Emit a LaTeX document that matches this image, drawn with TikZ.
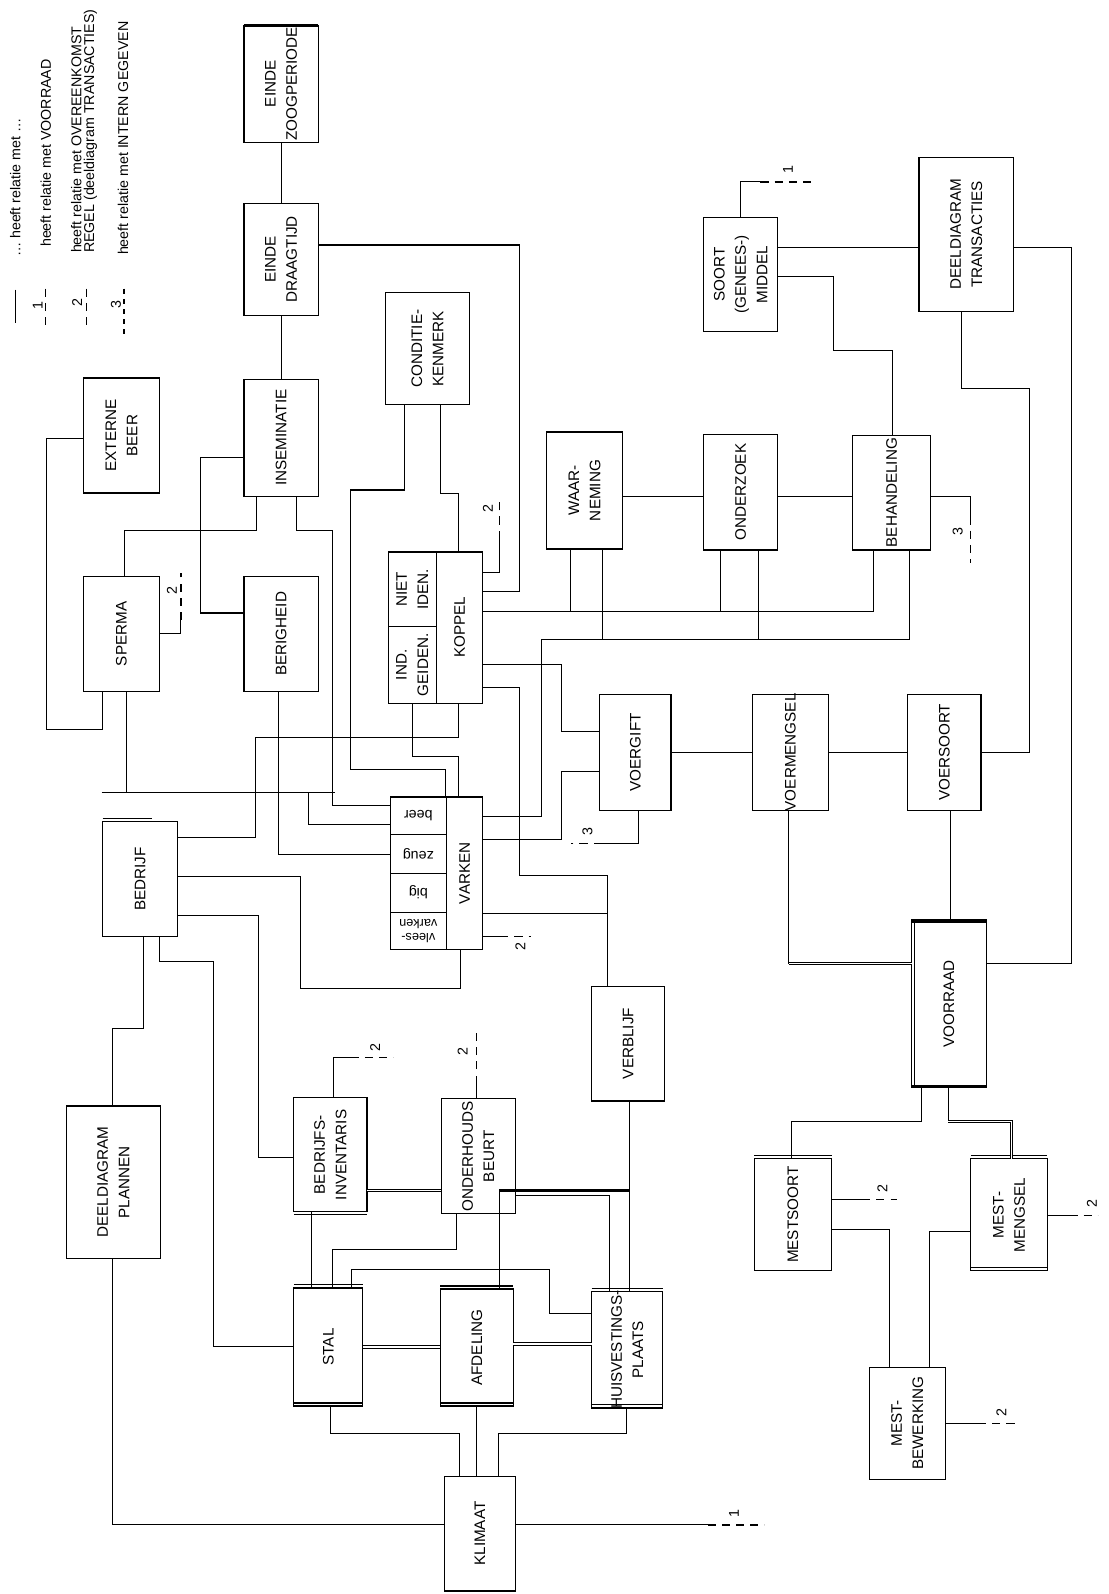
\documentclass[tikz,border=0pt]{standalone}
\usepackage{fontspec}
\setmainfont{Liberation Sans}
\newcommand\bx[6]{%
  \node[bx, minimum width={#4-#2}, minimum height={#5-#3}] (#1) at ({(#2+#4)/2},{(#3+#5)/2}) {};
  \node[lb] (#1-t) at (#1) {#6};}
\begin{document}
\begin{tikzpicture}[x=1pt,y=-1pt]
\tikzset{
  bx/.style={draw, line width=1.1pt, inner sep=0, outer sep=0},
  lb/.style={rotate=90, align=center, inner sep=0, font=\fontsize{15}{21}\selectfont},
  cn/.style={line width=1pt},
  dsh/.style={line width=1.2pt, dash pattern=on 8pt off 6pt},
  tag/.style={rotate=90, inner sep=0, font=\fontsize{14}{15}\selectfont},
  lg/.style={rotate=90, anchor=west, inner sep=0, align=left, font=\fontsize{14}{12}\selectfont},
  dbl/.style={line width=2.2pt},
  sub/.style={rotate=180, align=center, inner sep=0, font=\fontsize{14}{15}\selectfont},
}
\fill[white] (0,0) rectangle (1090,1568);
\useasboundingbox (0,0) rectangle (1090,1568);

% ---------- legend ----------
\coordinate (l1a) at (15,285); \coordinate (l1b) at (15,318);
\draw[cn] (l1a) -- (l1b);
\node[lg] (lt1) at (15,253) {\ldots{} heeft relatie met \ldots};
\coordinate (l2a) at (45,284); \coordinate (l2b) at (45,322);
\draw[dsh] (l2a) -- (l2b);
\node[tag] (ln1) at (37,301) {1};
\node[lg] (lt2) at (45,243) {heeft relatie met VOORRAAD};
\coordinate (l3a) at (85,284); \coordinate (l3b) at (85,322);
\draw[dsh] (l3a) -- (l3b);
\node[tag] (ln2) at (76,298) {2};
\node[lg] (lt3) at (75,249) {heeft relatie met OVEREENKOMST};
\node[lg] (lt3b) at (89,249) {REGEL (deeldiagram TRANSACTIES)};
\coordinate (l4a) at (122,284); \coordinate (l4b) at (122,330);
\draw[line width=1.2pt, dash pattern=on 5pt off 5pt] (l4a) -- (l4b);
\node[tag] (ln3) at (114,300) {3};
\node[lg] (lt4) at (121,251) {heeft relatie met INTERN GEGEVEN};

% ---------- boxes ----------
\bx{edz}{240}{25}{313}{140}{EINDE\\ZOOGPERIODE}
\bx{edt}{240}{200}{313}{310}{EINDE\\DRAAGTIJD}
\bx{ins}{240}{373}{313}{488}{INSEMINATIE}
\bx{cond}{379}{288}{462}{398}{CONDITIE-\\KENMERK}
\bx{ext}{82}{372}{157}{485}{EXTERNE\\BEER}
\bx{sper}{82}{567}{157}{680}{SPERMA}
\bx{ber}{240}{567}{313}{680}{BERIGHEID}
\bx{waar}{538}{425}{612}{540}{WAAR-\\NEMING}
\bx{ond}{692}{427}{765}{541}{ONDERZOEK}
\bx{beh}{839}{428}{915}{541}{BEHANDELING}
\bx{soort}{692}{214}{765}{326}{SOORT\\(GENEES-)\\MIDDEL}
\bx{trans}{904}{155}{997}{306}{DEELDIAGRAM\\TRANSACTIES}
\bx{vg}{590}{683}{660}{797}{VOERGIFT}
\bx{vm}{740}{683}{815}{797}{VOERMENGSEL}
\bx{vs}{893}{683}{965}{797}{VOERSOORT}
\bx{bedr}{101}{808}{175}{921}{BEDRIJF}
\bx{verb}{582}{970}{654}{1083}{VERBLIJF}
\bx{voor}{897}{905}{970}{1070}{VOORRAAD}
\bx{plan}{65}{1088}{158}{1238}{DEELDIAGRAM\\PLANNEN}
\bx{binv}{289}{1080}{361}{1192}{BEDRIJFS-\\INVENTARIS}
\bx{ohb}{434}{1081}{507}{1194}{ONDERHOUDS\\BEURT}
\bx{stal}{289}{1267}{357}{1383}{STAL}
\bx{afd}{433}{1268}{505}{1383}{AFDELING}
\bx{huis}{582}{1270}{652}{1385}{HUISVESTINGS-\\PLAATS}
\bx{klim}{437}{1452}{507}{1565}{KLIMAAT}
\bx{msoort}{742}{1140}{818}{1250}{MESTSOORT}
\bx{mmeng}{955}{1140}{1030}{1250}{MEST-\\MENGSEL}
\bx{mbew}{855}{1345}{930}{1455}{MEST-\\BEWERKING}

% KOPPEL composite
\node[bx, minimum width=93, minimum height=149] (kop) at (428.5,617.5) {};
\draw[bx] (kop.north -| 429,0) -- (kop.south -| 429,0);
\draw[bx] (kop.west |- 0,616) -- (429,616);
\node[lb] (kop-a) at (405.5,579.5) {NIET\\IDEN.};
\node[lb] (kop-b) at (405.5,654) {IND.\\GEIDEN.};
\node[lb] (kop-c) at (452,617) {KOPPEL};

% VARKEN composite
\node[bx, minimum width=91, minimum height=150] (vark) at (429.5,859) {};
\draw[bx] (vark.north -| 439,0) -- (vark.south -| 439,0);
\draw[bx] (vark.west |- 0,821) -- (439,821);
\draw[bx] (vark.west |- 0,859) -- (439,859);
\draw[bx] (vark.west |- 0,898) -- (439,898);
\node[sub] (v-beer) at (411.5,802) {beer};
\node[sub] (v-zeug) at (411.5,840) {zeug};
\node[sub] (v-big) at (411.5,878) {big};
\node[sub, font=\fontsize{12.5}{14}\selectfont] (v-vl) at (411.5,916) {vlees-\\varken};
\node[lb] (vark-t) at (457,859) {VARKEN};

% heavy / doubled edges
\draw[dbl] (edz.north west) -- (edz.north east);
\draw[dbl] (ext.north west) -- (ext.north east);
\draw[cn] ([yshift=3pt]bedr.north west) -- ([yshift=3pt,xshift=-25pt]bedr.north east);
\draw[cn] ([yshift=-3pt]binv.south west) -- ([yshift=-3pt]binv.south east);
\draw[dbl] ([yshift=3pt]stal.south west) -- ([yshift=3pt]stal.south east);
\draw[dbl] ([yshift=3pt]afd.south west) -- ([yshift=3pt]afd.south east);
\draw[cn] ([yshift=3pt]afd.north west) -- ([yshift=3pt]afd.north east);
\draw[cn] ([yshift=3pt]huis.north west) -- ([yshift=3pt]huis.north east);
\draw[cn] ([yshift=3pt]huis.south west) -- ([yshift=3pt]huis.south east);
\draw[cn] ([yshift=3pt]stal.north west) -- ([yshift=3pt]stal.north east);
\draw[dbl] ([yshift=-2pt]voor.north west) -- ([yshift=-2pt]voor.north east);
\draw[dbl] ([yshift=2pt]voor.south west) -- ([yshift=2pt]voor.south east);
\draw[cn] ([xshift=3pt]voor.north west) -- ([xshift=3pt]voor.south west);
\draw[cn] ([yshift=3pt]msoort.north west) -- ([yshift=3pt]msoort.north east);
\draw[cn] ([yshift=3pt]mmeng.north west) -- ([yshift=3pt]mmeng.north east);
\draw[cn] ([yshift=3pt]mmeng.south west) -- ([yshift=3pt]mmeng.south east);

% ---------- connectors ----------
\draw[cn] (edz.south) -- (edt.north);
\draw[cn] (edt.south) -- (ins.north);
\draw[cn] (edt.east |- 0,241) -- (511,241) -- (511,582) -- (kop.east |- 0,582);
\draw[cn] (cond.south -| 398,0) -- (398,482) -- (345,482) -- (345,757) -- (438,757) -- (vark.north -| 438,0);
\draw[cn] (cond.south -| 433,0) -- (433,485) -- (451,485) -- (kop.north -| 451,0);
\coordinate (k2) at (491,489);
\draw[cn] (kop.east |- 0,563) -- (491,563) -- (491,530);
\draw[dsh] (491,530) -- (k2);
\node[tag] (k2t) at (480,500) {2};
\draw[cn] (kop.east |- 0,602) -- (859,602) -- (beh.south -| 859,0);
\draw[cn] (waar.south -| 561,0) -- (561,602);
\draw[cn] (ond.south -| 709,0) -- (709,602);
\draw[cn] (vark.east |- 0,803) -- (533,803) -- (533,629) -- (895,629) -- (beh.south -| 895,0);
\draw[cn] (waar.south -| 593,0) -- (593,629);
\draw[cn] (ond.south -| 746,0) -- (746,629);
\draw[cn] (kop.east |- 0,654) -- (552,654) -- (552,720) -- (vg.west |- 0,720);
\draw[cn] (vark.east |- 0,826) -- (552,826) -- (552,759) -- (vg.west |- 0,759);
\coordinate (vg3) at (562,830);
\draw[cn] (vg.south -| 628,0) -- (628,830) -- (592,830);
\draw[dsh] (592,830) -- (vg3);
\node[tag] (vg3t) at (578,818) {3};
\draw[cn] (kop.east |- 0,676) -- (511,676) -- (511,861) -- (598,861) -- (verb.north -| 598,0);
\draw[cn] (vark.east |- 0,899) -- (598,899);
\coordinate (v2) at (522,921);
\draw[cn] (vark.east |- 0,921) -- (492,921);
\draw[dsh] (492,921) -- (v2);
\node[tag] (v2t) at (512,931) {2};

\draw[cn] (ins.west |- 0,450) -- (197,450) -- (197,603) -- (ber.west |- 0,603);
\draw[cn] (ins.south -| 252,0) -- (252,522) -- (122,522) -- (sper.north -| 122,0);
\draw[cn] (ins.south -| 292,0) -- (292,522) -- (327,522) -- (327,792) -- (vark.west |- 0,792);
\draw[cn] (ext.west |- 0,431) -- (46,431) -- (46,718) -- (101,718) -- (sper.south -| 101,0);
\coordinate (s2) at (178,564);
\draw[cn] (sper.east |- 0,623) -- (178,623) -- (178,610);
\draw[dsh] (178,610) -- (s2);
\node[tag] (s2t) at (169,581) {2};
\draw[cn] (sper.south -| 124,0) -- (124,780) -- (303,780) -- (303,811) -- (vark.west |- 0,811);
\coordinate (st1) at (100,780); \coordinate (st2) at (330,780);
\draw[cn] (st1) -- (st2);
\draw[cn] (ber.south -| 274,0) -- (274,841) -- (vark.west |- 0,841);
\draw[cn] (bedr.east |- 0,824) -- (251,824) -- (251,725) -- (451,725) -- (kop.south -| 451,0);
\draw[cn] (kop.south -| 406,0) -- (406,744) -- (451,744) -- (vark.north -| 451,0);
\draw[cn] (bedr.east |- 0,862) -- (296,862) -- (296,972) -- (453,972) -- (vark.south -| 453,0);
\draw[cn] (bedr.east |- 0,901) -- (254,901) -- (254,1139) -- (binv.west |- 0,1139);
\draw[cn] (bedr.south -| 157,0) -- (157,946) -- (210,946) -- (210,1325) -- (stal.west |- 0,1325);
\draw[cn] (bedr.south -| 141,0) -- (141,1012) -- (111,1012) -- (plan.north -| 111,0);
\draw[cn] (plan.south -| 111,0) -- (111,1500) -- (klim.west |- 0,1500);
\coordinate (kl1) at (752,1500);
\draw[cn] (klim.east |- 0,1500) -- (696,1500);
\draw[dsh] (696,1500) -- (kl1);
\node[tag] (kl1t) at (722,1489) {1};

\coordinate (bi2) at (387,1040);
\draw[cn] (binv.north -| 328,0) -- (328,1040) -- (345,1040);
\draw[dsh] (345,1040) -- (bi2);
\node[tag] (bi2t) at (369,1030) {2};
\coordinate (oh2) at (469,1016);
\draw[cn] (ohb.north -| 469,0) -- (469,1066);
\draw[dsh] (469,1066) -- (oh2);
\node[tag] (oh2t) at (455,1034) {2};
\draw[dbl, double, double distance=1.2pt, line width=0.8pt] (binv.east |- 0,1171) -- (ohb.west |- 0,1171);
\draw[cn] (afd.north -| 491,0) -- (491,1171);
\draw[dbl] (491,1171) -- (619,1171);
\draw[cn] (verb.south -| 619,0) -- (huis.north -| 619,0);
\draw[cn] (ohb.east |- 0,1176) -- (600,1176) -- (huis.north -| 600,0);
\draw[cn] (binv.south -| 306,0) -- (stal.north -| 306,0);
\draw[cn] (ohb.south -| 449,0) -- (449,1229) -- (327,1229) -- (stal.north -| 327,0);
\draw[cn] (stal.north -| 346,0) -- (346,1249) -- (541,1249) -- (541,1292) -- (huis.west |- 0,1292);
\draw[cn, double, double distance=1.5pt, line width=0.8pt] (stal.east |- 0,1325) -- (afd.west |- 0,1325);
\draw[dbl, double, double distance=1.5pt, line width=1pt] (afd.east |- 0,1322) -- (huis.west |- 0,1322);
\draw[cn] (stal.south -| 325,0) -- (325,1410) -- (452,1410) -- (klim.north -| 452,0);
\draw[cn] (afd.south -| 469,0) -- (klim.north -| 469,0);
\draw[cn] (huis.south -| 616,0) -- (616,1410) -- (490,1410) -- (klim.north -| 490,0);

\coordinate (so1) at (800,179);
\draw[cn] (soort.north -| 728,0) -- (728,179) -- (748,179);
\draw[dsh] (748,179) -- (so1);
\node[tag] (so1t) at (775,167) {1};
\draw[cn] (soort.east |- 0,243) -- (trans.west |- 0,243);
\draw[cn] (soort.east |- 0,272) -- (820,272) -- (820,345) -- (878,345) -- (beh.north -| 878,0);
\draw[cn] (waar.east |- 0,488) -- (ond.west |- 0,488);
\draw[cn] (ond.east |- 0,488) -- (beh.west |- 0,488);
\coordinate (be3) at (955,554);
\draw[cn] (beh.east |- 0,488) -- (955,488) -- (955,508);
\draw[dsh] (955,508) -- (be3);
\node[tag] (be3t) at (942,523) {3};
\draw[cn] (trans.east |- 0,243) -- (1054,243) -- (1054,948) -- (voor.east |- 0,948);
\draw[cn] (trans.south -| 946,0) -- (946,382) -- (1013,382) -- (1013,740) -- (vs.east |- 0,740);
\draw[cn] (vg.east |- 0,740) -- (vm.west |- 0,740);
\draw[cn] (vm.east |- 0,740) -- (vs.west |- 0,740);
\draw[cn] (vm.south -| 776,0) -- (776,948);
\draw[cn, double, double distance=1.2pt, line width=0.8pt] (776,948) -- (voor.west |- 0,948);
\draw[cn] (vs.south -| 935,0) -- (voor.north -| 935,0);
\draw[cn] (voor.south -| 906,0) -- (906,1103) -- (779,1103) -- (msoort.north -| 779,0);
\draw[cn] (voor.south -| 933,0) -- (933,1103);
\draw[cn, double, double distance=1.2pt, line width=0.8pt] (933,1103) -- (995,1103) -- (mmeng.north -| 995,0);
\coordinate (ms2) at (882,1180);
\draw[cn] (msoort.east |- 0,1180) -- (848,1180);
\draw[dsh] (848,1180) -- (ms2);
\node[tag] (ms2t) at (868,1169) {2};
\draw[cn] (msoort.east |- 0,1209) -- (875,1209) -- (mbew.north -| 875,0);
\draw[cn] (mmeng.west |- 0,1211) -- (914,1211) -- (mbew.north -| 914,0);
\coordinate (mm2) at (1080,1196);
\draw[cn] (mmeng.east |- 0,1196) -- (1052,1196);
\draw[dsh] (1052,1196) -- (mm2);
\node[tag] (mm2t) at (1074,1184) {2};
\coordinate (mb2) at (1000,1400);
\draw[cn] (mbew.east |- 0,1400) -- (962,1400);
\draw[dsh] (962,1400) -- (mb2);
\node[tag] (mb2t) at (985,1389) {2};
\end{tikzpicture}
\end{document}
